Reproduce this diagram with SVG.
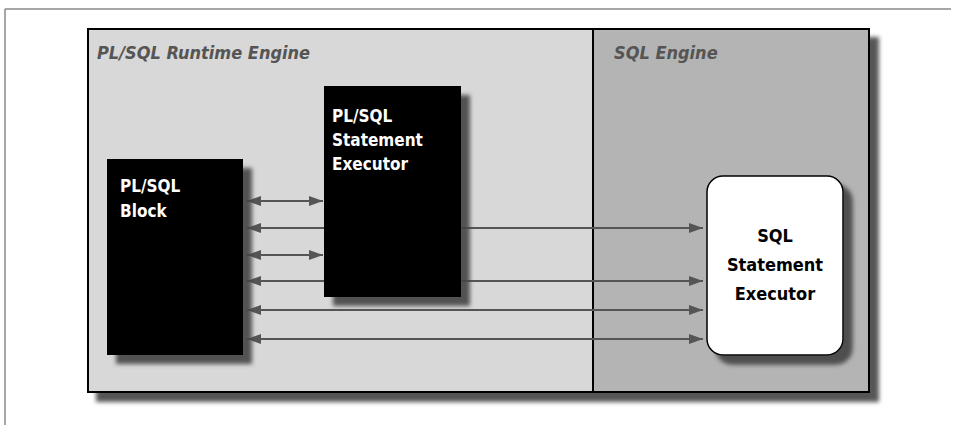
<svg xmlns="http://www.w3.org/2000/svg" width="959" height="425" viewBox="0 0 959 425">
<defs>
<style>
.t{font-family:"Liberation Sans Narrow","DejaVu Sans Condensed","Liberation Sans",sans-serif;font-weight:bold}
.title{font-size:18px;font-style:italic;fill:#555}
.wt{font-size:17px;fill:#fff}
.bt{font-size:18px;fill:#000}
.ln{stroke:#555;stroke-width:2;fill:none}
</style>
<filter id="sh" x="-10%" y="-10%" width="130%" height="130%">
<feGaussianBlur in="SourceAlpha" stdDeviation="2"/>
<feOffset dx="9" dy="9" result="o"/>
<feFlood flood-color="#444" flood-opacity="0.9"/>
<feComposite in2="o" operator="in" result="s"/>
<feMerge><feMergeNode in="s"/><feMergeNode in="SourceGraphic"/></feMerge>
</filter>
<marker id="ah" viewBox="0 0 14 10" refX="14" refY="5" markerWidth="14" markerHeight="10" markerUnits="userSpaceOnUse" orient="auto-start-reverse">
<path d="M0,0 L14,5 L0,10 Z" fill="#555"/>
</marker>
</defs>
<rect width="959" height="425" fill="#fff"/>
<g id="frame">
<line x1="5" y1="9" x2="951" y2="9" stroke="#888" stroke-width="1.5"/>
<line x1="5" y1="9" x2="5" y2="425" stroke="#888" stroke-width="1.5"/>
</g>
<g id="engines">
<g filter="url(#sh)">
<rect x="88" y="29" width="781" height="363" fill="#d8d8d8" stroke="#000" stroke-width="2"/>
</g>
<rect id="sql-engine" x="593" y="29" width="276" height="363" fill="#b4b4b4" stroke="#000" stroke-width="2"/>
<text class="t title" x="97" y="59">PL/SQL Runtime Engine</text>
<text class="t title" x="614" y="59">SQL Engine</text>
</g>
<g id="connectors">
<line class="ln" x1="247" y1="201" x2="323" y2="201" marker-start="url(#ah)" marker-end="url(#ah)"/>
<line class="ln" x1="247" y1="228" x2="703" y2="228" marker-start="url(#ah)" marker-end="url(#ah)"/>
<line class="ln" x1="247" y1="255" x2="323" y2="255" marker-start="url(#ah)" marker-end="url(#ah)"/>
<line class="ln" x1="247" y1="281" x2="703" y2="281" marker-start="url(#ah)" marker-end="url(#ah)"/>
<line class="ln" x1="247" y1="310" x2="703" y2="310" marker-start="url(#ah)" marker-end="url(#ah)"/>
<line class="ln" x1="247" y1="339" x2="703" y2="339" marker-start="url(#ah)" marker-end="url(#ah)"/>
</g>
<g id="plsql-block">
<rect x="107" y="159" width="136" height="196" fill="#000" filter="url(#sh)"/>
<text class="t wt" x="120" y="192">PL/SQL</text>
<text class="t wt" x="120" y="217">Block</text>
</g>
<g id="plsql-executor">
<rect x="324" y="86" width="137" height="211" fill="#000" filter="url(#sh)"/>
<text class="t wt" x="332" y="122">PL/SQL</text>
<text class="t wt" x="332" y="146">Statement</text>
<text class="t wt" x="332" y="170">Executor</text>
</g>
<g id="sql-executor">
<rect x="707" y="176" width="136" height="179" rx="16" ry="16" fill="#fff" stroke="#000" stroke-width="1.5" filter="url(#sh)"/>
<text class="t bt" x="775" y="242" text-anchor="middle">SQL</text>
<text class="t bt" x="775" y="271" text-anchor="middle">Statement</text>
<text class="t bt" x="775" y="300" text-anchor="middle">Executor</text>
</g>
</svg>
